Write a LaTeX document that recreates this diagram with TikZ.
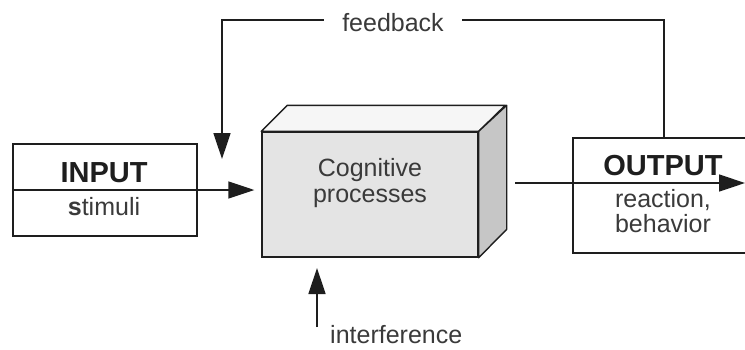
\documentclass[tikz,border=0pt]{standalone}
\usepackage{fontspec}
\setmainfont{Liberation Sans}
\usetikzlibrary{arrows.meta,calc}
\definecolor{ink}{HTML}{1E1E1E}
\definecolor{txt}{HTML}{3A3A3A}
\definecolor{frontgray}{HTML}{E4E4E4}
\definecolor{topgray}{HTML}{F6F6F6}
\definecolor{sidegray}{HTML}{C6C6C6}
\tikzset{
  boxline/.style={draw=ink, line width=1.4pt},
  conn/.style={draw=ink, line width=1.4pt, -{Triangle[length=26pt,width=17pt]}},
  plain/.style={draw=ink, line width=1.4pt},
  lbl/.style={text=txt, font=\fontsize{25}{28}\selectfont, inner sep=0pt, anchor=base},
  head/.style={text=ink, font=\bfseries\fontsize{29}{32}\selectfont, inner sep=0pt, anchor=base},
}
\begin{document}
\begin{tikzpicture}[x=1pt,y=-1pt]
\useasboundingbox (0,0) rectangle (745,349);
\clip (0,0) rectangle (745,349);
\fill[white] (0,0) rectangle (745,349);

% input box
\node[boxline, minimum width=184pt, minimum height=92pt, inner sep=0pt] (inp) at (105,190) {};
\node[head] (inpt) at (104,182) {INPUT};
\node[lbl] (stim) at (104,215) {\textbf{s}timuli};

% processing block drawn as a box in perspective
\node[boxline, fill=frontgray, minimum width=216pt, minimum height=125pt, inner sep=0pt] (cog) at (370,194.5) {};
\coordinate (cogTL) at (cog.north west);
\coordinate (cogTR) at (cog.north east);
\coordinate (cogBR) at (cog.south east);
\filldraw[boxline, fill=topgray, line join=round] (cogTL) -- ++(26,-26) -- ++(218,0) -- (cogTR) -- cycle;
\filldraw[boxline, fill=sidegray, line join=round] (cogTR) -- ++(28,-26) -- ++(0,124) -- (cogBR) -- cycle;
\node[lbl] (cogA) at (370,176) {Cognitive};
\node[lbl] (cogB) at (370,202) {processes};

% output box
\node[boxline, minimum width=187pt, minimum height=115pt, inner sep=0pt] (out) at (666.5,195.5) {};
\node[head] (outt) at (663,175) {OUTPUT};
\node[lbl] (outA) at (663,207) {reaction,};
\node[lbl] (outB) at (663,232) {behavior};

% stimulus arrow into the block
\draw[conn, shorten >=7pt] (inp.west) -- (cog.west |- inp.west);

% response arrow leaving the block
\coordinate (resS) at (515,183);
\coordinate (resE) at (745,183);
\draw[conn] (resS) -- (resE);

% feedback loop
\coordinate (fbR) at (664,20);
\coordinate (fbL) at (222,20);
\coordinate (fbT) at (222,159);
\draw[conn] (out.north -| fbR) -- (fbR) -- (fbL) -- (fbT);
\node[lbl, fill=white, inner xsep=18pt] (fb) at (393,31) {feedback};

% interference arrow
\coordinate (intS) at (317,327);
\coordinate (intT) at (317,268);
\draw[conn] (intS) -- (intT);
\node[lbl, anchor=base west] (intl) at (330,343) {interference};
\end{tikzpicture}
\end{document}
